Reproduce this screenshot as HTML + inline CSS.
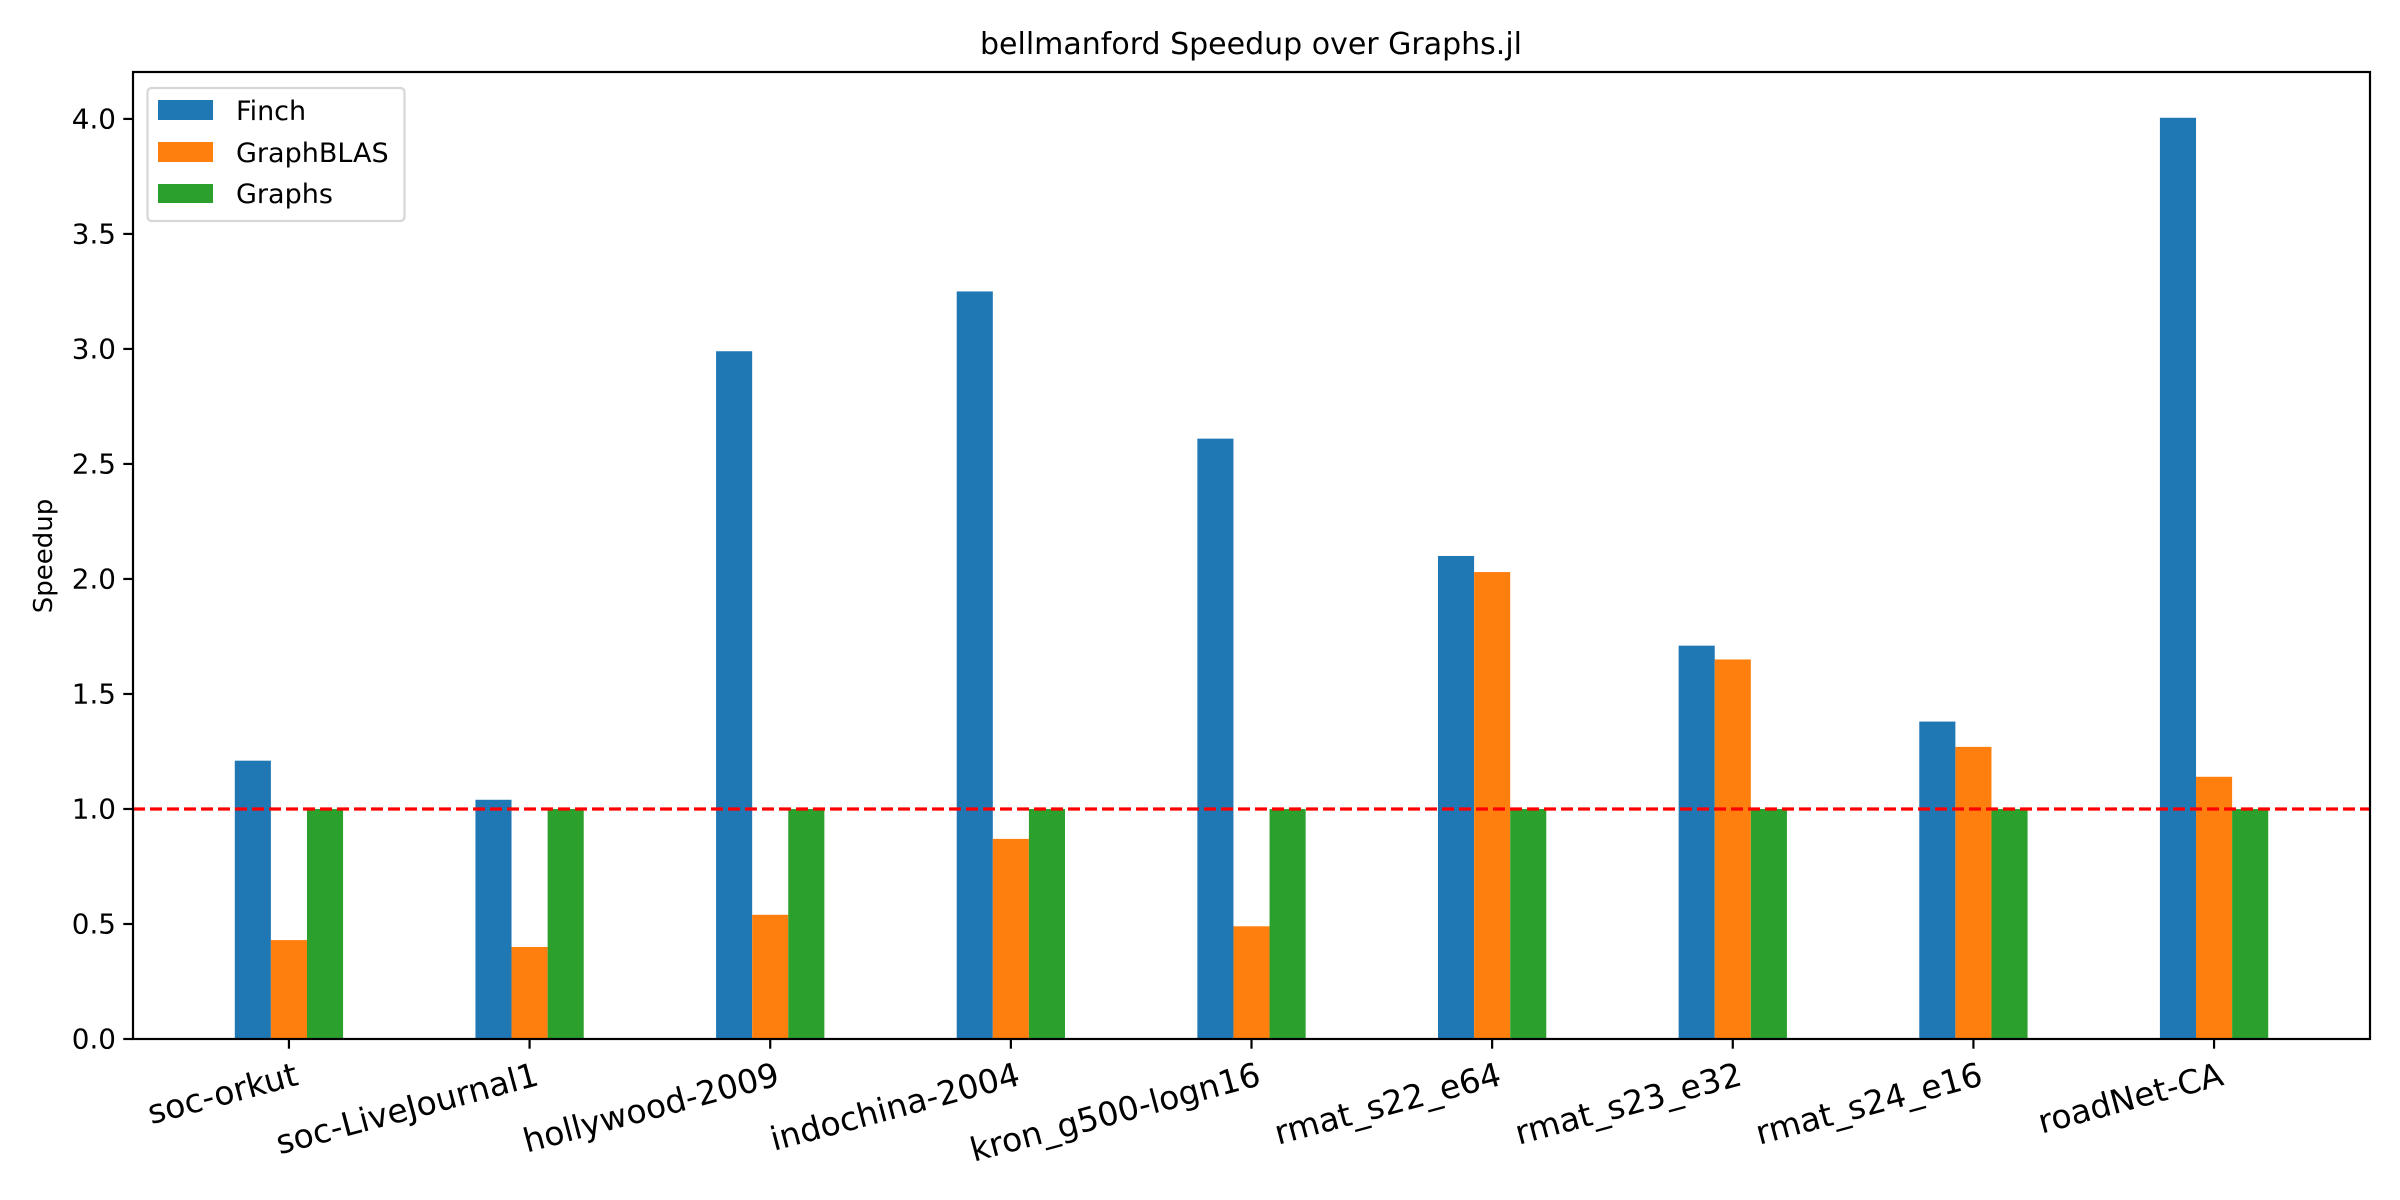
<!DOCTYPE html>
<html><head><meta charset="utf-8"><style>
html,body{margin:0;padding:0;background:#fff;}
svg{display:block;font-family:"DejaVu Sans","Liberation Sans",sans-serif;}
</style></head><body>
<svg id="chart" width="2400" height="1200" viewBox="0 0 2400 1200" xmlns="http://www.w3.org/2000/svg">
<rect width="2400" height="1200" fill="#fff"/>
<text x="1251" y="54" font-size="30" text-anchor="middle">bellmanford Speedup over Graphs.jl</text>
<text transform="translate(52,556) rotate(-90)" font-size="26" text-anchor="middle">Speedup</text>
<g id="bars"></g>
<g id="yticks"></g>
<g id="xticks"></g>
<line id="refline" stroke="#ff0000" stroke-width="3.3" stroke-dasharray="12,5"/>
<rect x="133" y="72" width="2237" height="967" fill="none" stroke="#000" stroke-width="2.2"/>
<g>
<rect x="147.5" y="88" width="257" height="133" rx="4" fill="#fff" fill-opacity="0.8" stroke="#d6d6d6" stroke-width="2.2"/>
<rect x="158" y="100" width="55" height="20" fill="#1f77b4"/>
<text x="236" y="120" font-size="27">Finch</text>
<rect x="158" y="142" width="55" height="20" fill="#ff7f0e"/>
<text x="236" y="162" font-size="27">GraphBLAS</text>
<rect x="158" y="184" width="55" height="19" fill="#2ca02c"/>
<text x="236" y="203" font-size="27">Graphs</text>
</g>
</svg>
<script>
const categories = ["soc-orkut","soc-LiveJournal1","hollywood-2009","indochina-2004","kron_g500-logn16","rmat_s22_e64","rmat_s23_e32","rmat_s24_e16","roadNet-CA"];
const finch = [1.21,1.04,2.99,3.25,2.61,2.10,1.71,1.38,4.005];
const graphblas = [0.43,0.40,0.54,0.87,0.49,2.03,1.65,1.27,1.14];
const graphs = [1,1,1,1,1,1,1,1,1];
const yTickLabels = ["0.0","0.5","1.0","1.5","2.0","2.5","3.0","3.5","4.0"];
const yTickValues = [0,0.5,1,1.5,2,2.5,3,3.5,4];
const refValue = 1.0;

const NS="http://www.w3.org/2000/svg";
const L=133,R=2370,T=72,B=1039;
const xmin=-0.648,xmax=categories.length-1+0.648,ymin=0,ymax=4.204;
function xs(i){return L+(i-xmin)/(xmax-xmin)*(R-L);}
function ys(v){return B-(v-ymin)/(ymax-ymin)*(B-T);}
const unit=(R-L)/(xmax-xmin);
const bw=0.15*unit;
function mk(tag,attrs,parent){const e=document.createElementNS(NS,tag);for(const k in attrs)e.setAttribute(k,attrs[k]);parent.appendChild(e);return e;}
const barsG=document.getElementById('bars');
const series=[{d:finch,c:"#1f77b4",n:"finch",o:-1},{d:graphblas,c:"#ff7f0e",n:"graphblas",o:0},{d:graphs,c:"#2ca02c",n:"graphs",o:1}];
series.forEach(s=>{s.d.forEach((v,i)=>{
  const cx=xs(i)+s.o*bw;
  const r=mk('rect',{x:cx-bw/2,y:ys(v),width:bw,height:ys(0)-ys(v),fill:s.c},barsG);
  
  
});});
const yt=document.getElementById('yticks');
yTickValues.forEach((v,i)=>{
  const y=ys(v);
  const l=mk('line',{x1:L-9.7,x2:L,y1:y,y2:y,stroke:'#000','stroke-width':2.2},yt);
  
  
  const t=mk('text',{x:L-17,y:y+9.5,'font-size':27.8,'text-anchor':'end'},yt);
  t.textContent=yTickLabels[i];
  
  
});
const xt=document.getElementById('xticks');
categories.forEach((c,i)=>{
  const x=xs(i);
  const l=mk('line',{x1:x,x2:x,y1:B,y2:B+9.7,stroke:'#000','stroke-width':2.2},xt);
  
  
  const t=mk('text',{transform:'translate('+(x+4)+','+(B+20)+') rotate(-15)','font-size':33,'text-anchor':'end',dy:'0.8em'},xt);
  t.textContent=c;
  
  
});
const rl=document.getElementById('refline');
rl.setAttribute('x1',L);rl.setAttribute('x2',R);rl.setAttribute('y1',ys(refValue));rl.setAttribute('y2',ys(refValue));
</script>
</body></html>
